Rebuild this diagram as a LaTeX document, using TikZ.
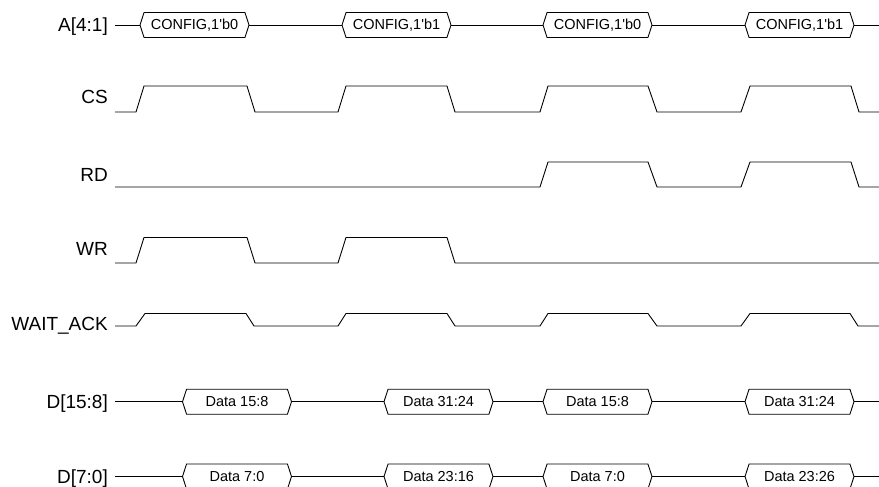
\documentclass[tikz,border=0pt]{standalone}
\usepackage{fontspec}
\setmainfont{Liberation Sans}
\usetikzlibrary{shapes.symbols}

\begin{document}
\begin{tikzpicture}[x=1pt,y=-1pt,
    wave/.style={line width=0.9pt},
    sig/.style={font=\fontsize{19}{22}\selectfont, anchor=base east, inner sep=0pt},
    bus/.style={draw, line width=0.9pt, signal, signal to=west and east,
      signal pointer angle=144, minimum width=109, minimum height=25,
      inner sep=0pt, outer sep=0pt, font=\fontsize{14.5}{17}\selectfont}]
  \useasboundingbox (0,0) rectangle (879,487);

  \node[sig] (la) at (108,31.7) {A[4:1]};
  \node[sig] (lcs) at (108,103.3) {CS};
  \node[sig] (lrd) at (108,181.7) {RD};
  \node[sig] (lwr) at (108,255) {WR};
  \node[sig] (lwait) at (108,330) {WAIT\_ACK};
  \node[sig] (ldh) at (108,408.3) {D[15:8]};
  \node[sig] (ldl) at (108,483.3) {D[7:0]};

  \node[bus] (a0) at (194.5,25) {CONFIG,1\textquotesingle b0};
  \node[bus] (a1) at (396.5,25) {CONFIG,1\textquotesingle b1};
  \node[bus] (a2) at (597.5,25) {CONFIG,1\textquotesingle b0};
  \node[bus] (a3) at (799.5,25) {CONFIG,1\textquotesingle b1};
  \coordinate (as) at (115,25);
  \coordinate (ae) at (879,25);

  \node[bus] (dh0) at (237,401.7) {Data 15:8};
  \node[bus] (dh1) at (438.5,401.7) {Data 31:24};
  \node[bus] (dh2) at (597.5,401.7) {Data 15:8};
  \node[bus] (dh3) at (799.5,401.7) {Data 31:24};
  \coordinate (dhs) at (115,401.7);
  \coordinate (dhe) at (879,401.7);

  \node[bus] (dl0) at (237,476.5) {Data 7:0};
  \node[bus] (dl1) at (438.5,476.5) {Data 23:16};
  \node[bus] (dl2) at (597.5,476.5) {Data 7:0};
  \node[bus] (dl3) at (799.5,476.5) {Data 23:26};
  \coordinate (dls) at (115,476.5);
  \coordinate (dle) at (879,476.5);

  \begin{scope}[wave]
    \draw (as) -- (a0.west);
    \draw (a0.east) -- (a1.west);
    \draw (a1.east) -- (a2.west);
    \draw (a2.east) -- (a3.west);
    \draw (a3.east) -- (ae);
    \draw (dhs) -- (dh0.west);
    \draw (dh0.east) -- (dh1.west);
    \draw (dh1.east) -- (dh2.west);
    \draw (dh2.east) -- (dh3.west);
    \draw (dh3.east) -- (dhe);
    \draw (dls) -- (dl0.west);
    \draw (dl0.east) -- (dl1.west);
    \draw (dl1.east) -- (dl2.west);
    \draw (dl2.east) -- (dl3.west);
    \draw (dl3.east) -- (dle);

    \draw (115,112) -- (136,112) -- (144,86) -- (247,86) -- (255,112)
      -- (338,112) -- (346,86) -- (447,86) -- (455,112)
      -- (540,112) -- (548,86) -- (648,86) -- (657,112)
      -- (741,112) -- (750,86) -- (851,86) -- (859,112) -- (879,112);
    \draw (115,187) -- (540,187) -- (548,162) -- (648,162) -- (657,187)
      -- (741,187) -- (750,162) -- (851,162) -- (859,187) -- (879,187);
    \draw (115,263) -- (136,263) -- (144,237.5) -- (247,237.5) -- (255,263)
      -- (338,263) -- (346,237.5) -- (447,237.5) -- (455,263) -- (879,263);
    \draw (115,326) -- (136,326) -- (145,313.5) -- (246,313.5) -- (254,326)
      -- (338,326) -- (346,313.5) -- (447,313.5) -- (455,326)
      -- (540,326) -- (548,313.5) -- (648,313.5) -- (657,326)
      -- (741,326) -- (750,313.5) -- (850,313.5) -- (858,326) -- (879,326);
  \end{scope}
\end{tikzpicture}
\end{document}
